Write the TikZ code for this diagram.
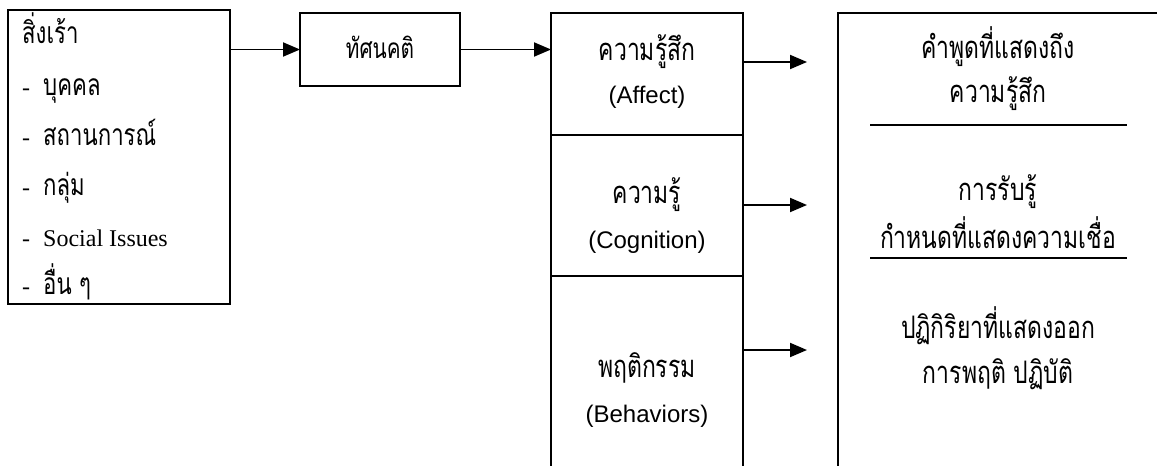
\documentclass[tikz,border=0pt]{standalone}
\usepackage{fontspec}
\newfontfamily\thaifont[Script=Thai, FakeStretch=0.74]{Loma}
\newfontfamily\arialf{Liberation Sans}
\newfontfamily\serifl{Liberation Serif}
\usetikzlibrary{arrows.meta}
\newcommand{\dashmark}{\makebox[21pt][l]{\serifl\fontsize{24}{28}\selectfont -}}
\begin{document}
\begin{tikzpicture}[x=1pt,y=-1pt,
  box/.style={draw, line width=1.9pt, inner sep=0pt, outer sep=0pt, anchor=north west},
  arr/.style={-{Triangle[length=17pt,width=14pt]}, line width=1.9pt},
  thl/.style={font=\thaifont\fontsize{30}{34}\selectfont, inner sep=0pt, anchor=base west},
  thc/.style={font=\thaifont\fontsize{31}{35}\selectfont, inner sep=0pt, anchor=base},
  enc/.style={font=\arialf\fontsize{24}{28}\selectfont, inner sep=0pt, anchor=base},
  rule/.style={line width=1.9pt}]
\useasboundingbox (0,0) rectangle (1157,466);
% boxes
\node[box, minimum width=222pt, minimum height=294pt] (stim) at (8,10) {};
\node[box, minimum width=160pt, minimum height=73pt] (att) at (300,13) {};
\node[box, minimum width=192pt, minimum height=122pt] (aff) at (551,13) {};
\node[box, minimum width=192pt, minimum height=141pt] (cog) at (551,135) {};
\node[box, minimum width=192pt, minimum height=210pt] (beh) at (551,276) {};
\node[box, minimum width=340pt, minimum height=470pt] (resp) at (838,13) {};
% left texts
\node[thl] (s0) at (22,43) {สิ่งเร้า};
\node[thl] (s1) at (22,95) {\dashmark บุคคล};
\node[thl] (s2) at (22,145) {\dashmark สถานการณ์};
\node[thl] (s3) at (22,195) {\dashmark กลุ่ม};
\node[thl, font=\serifl\fontsize{24}{28}\selectfont] (s4) at (22,246) {\dashmark Social Issues};
\node[thl] (s5) at (22,294) {\dashmark อื่น ๆ};
% attitude
\node[thc, font=\thaifont\fontsize{28}{32}\selectfont] (t0) at (380,58) {ทัศนคติ};
% middle texts
\node[thc] (m1) at (647,60) {ความรู้สึก};
\node[enc] (m2) at (647,103) {(Affect)};
\node[thc] (m3) at (647,203) {ความรู้};
\node[enc] (m4) at (647,248) {(Cognition)};
\node[thc] (m5) at (647,377) {พฤติกรรม};
\node[enc] (m6) at (647,422) {(Behaviors)};
% right texts
\node[thc] (r1) at (998,58) {คำพูดที่แสดงถึง};
\node[thc] (r2) at (998,102) {ความรู้สึก};
\node[thc] (r3) at (998,200) {การรับรู้};
\node[thc] (r4) at (998,248) {กำหนดที่แสดงความเชื่อ};
\node[thc] (r5) at (998,338) {ปฏิกิริยาที่แสดงออก};
\node[thc] (r6) at (998,383) {การพฤติ ปฏิบัติ};
\draw[rule] (870,125) -- (1127,125);
\draw[rule] (870,258) -- (1127,258);
% arrows
\draw[arr] (stim.east |- att.west) -- (att.west);
\draw[arr] (att.east) -- (aff.west |- att.east);
\coordinate (e1) at (807,62);
\coordinate (e2) at (807,205);
\coordinate (e3) at (807,350);
\draw[arr] (aff.east |- e1) -- (e1);
\draw[arr] (cog.east |- e2) -- (e2);
\draw[arr] (beh.east |- e3) -- (e3);
\end{tikzpicture}
\end{document}
